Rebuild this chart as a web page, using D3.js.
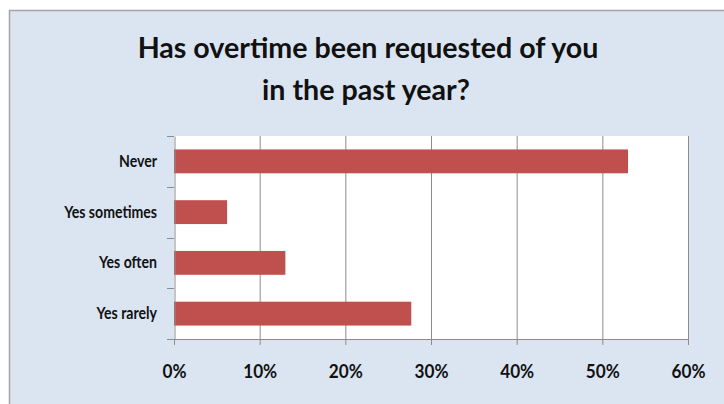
<!DOCTYPE html>
<html><head><meta charset="utf-8">
<script src="https://cdn.jsdelivr.net/npm/d3@7"></script>
<style>html,body{margin:0;padding:0;background:#fff}svg{display:block}</style>
</head><body>
<script>
const categories = ["Never", "Yes sometimes", "Yes often", "Yes rarely"];
const values = [0.530, 0.062, 0.130, 0.277];
const xTicks = [0, 0.1, 0.2, 0.3, 0.4, 0.5, 0.6];
const titleLines = ["Has overtime been requested of you", "in the past year?"];

const W = 724, H = 404;
const svg = d3.select("body").append("svg").attr("width", W).attr("height", H);
svg.append("rect").attr("width", W).attr("height", H).attr("fill", "#fff");
svg.append("rect").attr("x", 9.5).attr("y", 10.5).attr("width", W).attr("height", H)
  .attr("fill", "#DBE5F1").attr("stroke", "#A5A5A5").attr("stroke-width", 1.5);

const font = "Lato, 'Open Sans', sans-serif";
const x = d3.scaleLinear().domain([0, 0.6]).range([174, 688]);
const y = d3.scaleBand().domain(categories).range([136, 339]).paddingInner(0.53).paddingOuter(0.265);

svg.append("rect").attr("x", x(0)).attr("y", 136).attr("width", x(0.6) - x(0)).attr("height", 339 - 136).attr("fill", "#fff");

svg.append("g").selectAll("line").data(xTicks.slice(1)).join("line")
  .attr("x1", d => x(d) + 0.5).attr("x2", d => x(d) + 0.5).attr("y1", 136).attr("y2", 339)
  .attr("stroke", "#8C8C8C").attr("stroke-width", 1);

svg.append("g").selectAll("rect").data(categories).join("rect")
  .attr("x", x(0)).attr("y", d => y(d)).attr("height", y.bandwidth())
  .attr("width", (d, i) => x(values[i]) - x(0)).attr("fill", "#C0504D");

// horizontal condense factor so a reference string matches its width
function squeeze(node, target) {
  return target / node.getComputedTextLength();
}

// x axis
const xa = svg.append("g").attr("transform", "translate(0,339)")
  .call(d3.axisBottom(x).tickValues(xTicks).tickFormat(d3.format(".0%")).tickSize(6).tickPadding(20).tickSizeOuter(0));
xa.select(".domain").attr("stroke", "#8C8C8C");
xa.selectAll(".tick line").attr("stroke", "#8C8C8C");
xa.selectAll("text").attr("font-family", font).attr("font-weight", "bold").attr("font-size", 18.5).attr("fill", "#111");
const sx = squeeze(xa.selectAll("text").filter(d => d === 0.6).node(), 34);
xa.selectAll("text").attr("transform", `scale(${sx},1)`);
svg.append("line").attr("x1", 167).attr("x2", 174).attr("y1", 339.5).attr("y2", 339.5).attr("stroke", "#8C8C8C");

// y axis
const ya = svg.append("g").attr("transform", "translate(174.5,0)")
  .call(d3.axisLeft(y).tickSize(0).tickPadding(17));
ya.select(".domain").attr("stroke", "#8C8C8C");
ya.selectAll("text").attr("font-family", font).attr("font-weight", "bold").attr("font-size", 17.5).attr("fill", "#111");
const sy = squeeze(ya.selectAll("text").filter(d => d === "Yes sometimes").node(), 93);
ya.selectAll("text").attr("x", 0).attr("transform", `translate(-17.5,0) scale(${sy},1)`);
const bounds = d3.range(categories.length + 1).map(i => 136 + i * y.step());
svg.append("g").selectAll("line").data(bounds).join("line")
  .attr("x1", 167).attr("x2", 174).attr("y1", d => Math.round(d) + 0.5).attr("y2", d => Math.round(d) + 0.5)
  .attr("stroke", "#8C8C8C");

// title
const t = svg.append("g").attr("font-family", font).attr("font-weight", "bold").attr("fill", "#111")
  .attr("text-anchor", "middle").attr("font-size", 29);
const g1 = t.append("g").attr("transform", "translate(368,58)");
const l1 = g1.append("text").text(titleLines[0]);
const st = squeeze(l1.node(), 461);
g1.attr("transform", `translate(368,58) scale(${st},1)`);
t.append("g").attr("transform", `translate(366,100) scale(${st},1)`).append("text").text(titleLines[1]);
</script>
</body></html>
